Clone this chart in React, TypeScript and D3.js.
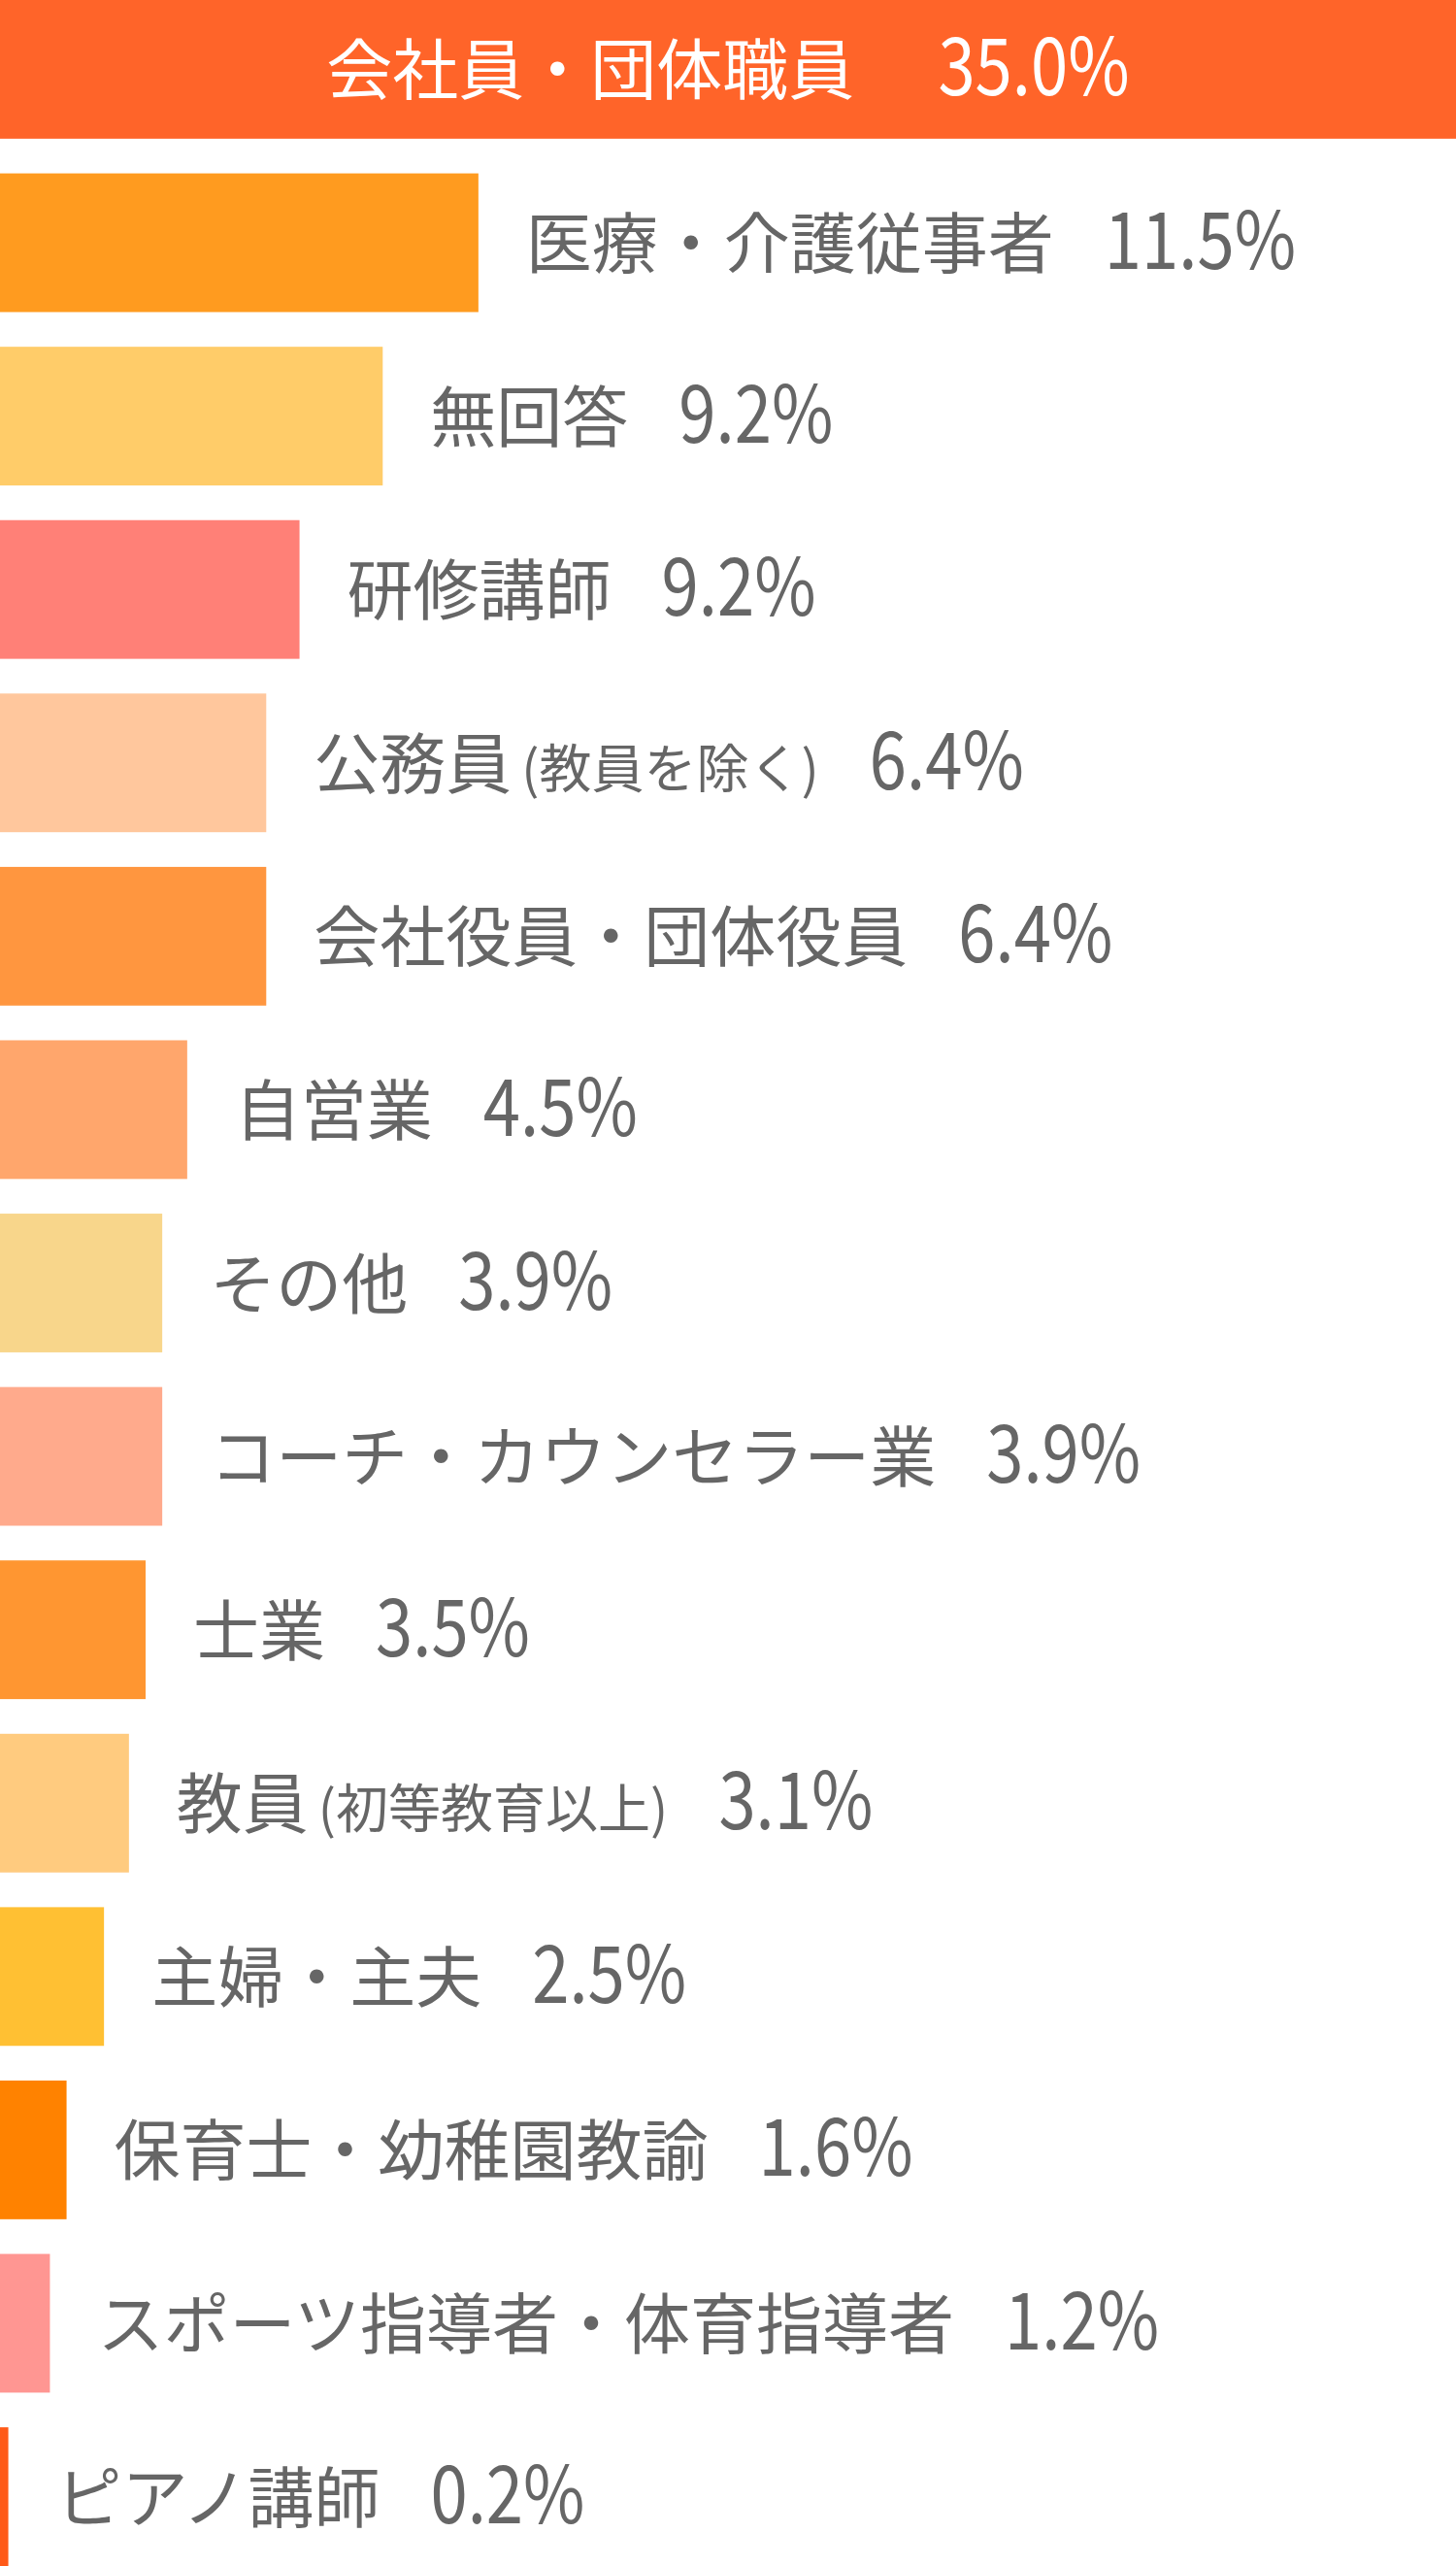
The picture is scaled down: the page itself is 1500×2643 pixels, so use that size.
import React, { useLayoutEffect, useRef, useState } from "react";
import * as d3 from "d3";

const categories = [
  "会社員・団体職員",
  "医療・介護従事者",
  "無回答",
  "研修講師",
  "公務員（教員を除く）",
  "会社役員・団体役員",
  "自営業",
  "その他",
  "コーチ・カウンセラー業",
  "士業",
  "教員（初等教育以上）",
  "主婦・主夫",
  "保育士・幼稚園教諭",
  "スポーツ指導者・体育指導者",
  "ピアノ講師",
];

// bar lengths as drawn in the picture
const barValues = [35.0, 11.5, 9.2, 7.2, 6.4, 6.4, 4.5, 3.9, 3.9, 3.5, 3.1, 2.5, 1.6, 1.2, 0.2];

// value labels as printed
const valueLabels = [
  "35.0%", "11.5%", "9.2%", "9.2%", "6.4%", "6.4%", "4.5%", "3.9%",
  "3.9%", "3.5%", "3.1%", "2.5%", "1.6%", "1.2%", "0.2%",
];

const colors = [
  "#FF6429", "#FF9B1F", "#FFCC69", "#FF8077", "#FFC79D",
  "#FF963F", "#FFA66C", "#F8D68B", "#FFAA8C", "#FF9631",
  "#FFCB7F", "#FFC033", "#FF8200", "#FF9692", "#FF5A18",
];

const W = 1500;
const H = 2643;
const FONT = "'Noto Sans CJK JP', 'Noto Sans', sans-serif";
const NUM_SIZE = 82;
const NUM_SX = 0.84;

export default function App() {
  const x = d3.scaleLinear().domain([0, 35]).range([0, W]);
  const y = d3
    .scaleBand<string>()
    .domain(categories)
    .range([0, H])
    .paddingInner(0.2)
    .paddingOuter(0);

  const labelRefs = useRef<(SVGTextElement | null)[]>([]);
  const valueRefs = useRef<(SVGTextElement | null)[]>([]);
  const [lw, setLw] = useState<number[] | null>(null);
  const [vw, setVw] = useState<number[] | null>(null);

  useLayoutEffect(() => {
    setLw(labelRefs.current.map((el) => (el ? el.getBBox().width : 0)));
    setVw(valueRefs.current.map((el) => (el ? el.getComputedTextLength() : 0)));
  }, []);

  return (
    <svg
      width={W}
      height={H}
      style={{ position: "absolute", left: 0, top: 0, display: "block" }}
      fontFamily={FONT}
    >
      {categories.map((c, i) => {
        const y0 = y(c) as number;
        const cy = y0 + y.bandwidth() / 2;
        const m = c.match(/^(.*?)（(.*)）$/);
        const main = m ? m[1] : c;
        const sub = m ? m[2] : null;
        const isTop = i === 0;
        const gap = isTop ? 86 : 52;
        const labW = lw ? lw[i] : 0;
        const valW = vw ? vw[i] * NUM_SX : 0;
        const total = labW + gap + valW;
        const lx = isTop ? W / 2 - total / 2 : x(barValues[i]) + 49;
        const vx = lx + labW + gap;
        const fill = isTop ? "#FFFFFF" : "#666666";
        return (
          <g key={c}>
            <rect x={0} y={y0} width={x(barValues[i])} height={y.bandwidth()} fill={colors[i]} />
            <text
              ref={(el) => {
                labelRefs.current[i] = el;
              }}
              x={lx}
              y={cy + 26}
              fill={fill}
              fontSize={68}
              opacity={lw ? 1 : 0}
            >
              <tspan>{main}</tspan>
              {sub && (
                <tspan fontSize={54} dx={10}>
                  {"(" + sub + ")"}
                </tspan>
              )}
            </text>
            <text
              ref={(el) => {
                valueRefs.current[i] = el;
              }}
              transform={`translate(${vx},${cy + 27}) scale(${NUM_SX},1)`}
              fill={fill}
              fontSize={NUM_SIZE}
              opacity={vw ? 1 : 0}
            >
              {valueLabels[i]}
            </text>
          </g>
        );
      })}
    </svg>
  );
}
